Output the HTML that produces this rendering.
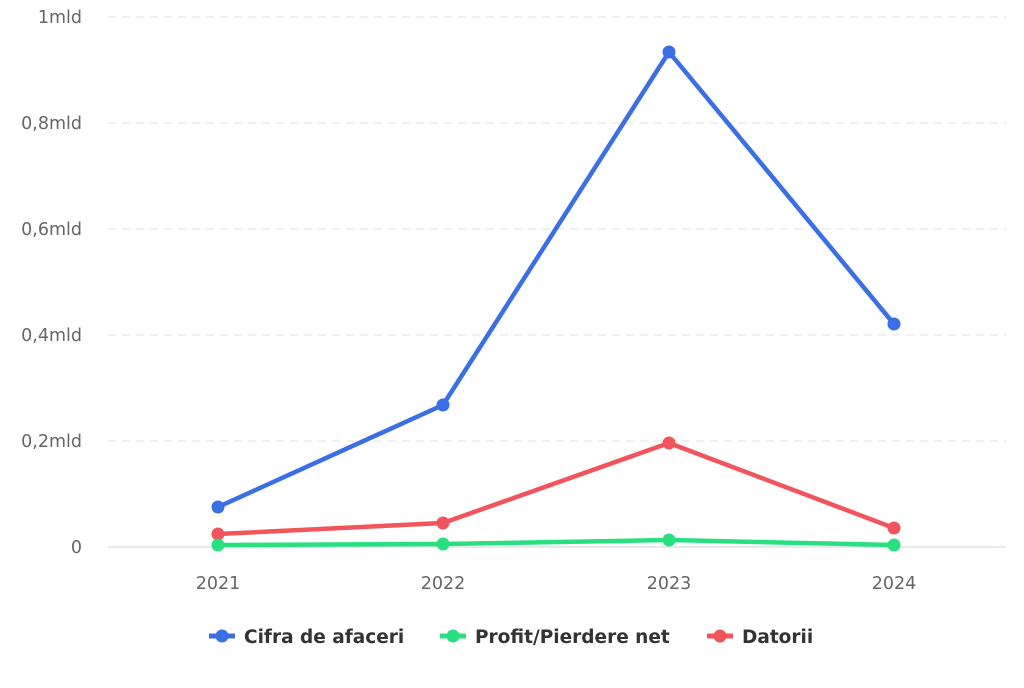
<!DOCTYPE html>
<html><head><meta charset="utf-8"><style>body{margin:0;background:#fff}</style></head><body>
<svg width="1024" height="683" xmlns="http://www.w3.org/2000/svg" font-family="DejaVu Sans, sans-serif">
<rect width="1024" height="683" fill="#fff"/>
<g stroke="#e0e0e0" stroke-width="1" stroke-dasharray="8,6">
<line x1="108" x2="1006" y1="17" y2="17"/>
<line x1="108" x2="1006" y1="123" y2="123"/>
<line x1="108" x2="1006" y1="229" y2="229"/>
<line x1="108" x2="1006" y1="335" y2="335"/>
<line x1="108" x2="1006" y1="441" y2="441"/>
</g>
<line x1="108" x2="1006" y1="547" y2="547" stroke="#ccd6e0" stroke-width="1"/>
<g fill="#666" font-size="17.5" text-anchor="end">
<text x="82" y="23">1mld</text>
<text x="82" y="129">0,8mld</text>
<text x="82" y="235">0,6mld</text>
<text x="82" y="341">0,4mld</text>
<text x="82" y="447">0,2mld</text>
<text x="82" y="553">0</text>
</g>
<g fill="#666" font-size="17.5" text-anchor="middle">
<text x="218" y="589">2021</text><text x="443" y="589">2022</text><text x="669" y="589">2023</text><text x="894" y="589">2024</text>
</g>
<g fill="none" stroke-width="4.5" stroke-linejoin="round">
<polyline stroke="#3b6fe6" points="218,507 443,405 669,52 894,324"/>
<polyline stroke="#f2545b" points="218,534 443,523 669,443 894,528"/>
<polyline stroke="#28e07f" points="218,545 443,544 669,540 894,545"/>
</g>
<g fill="#3b6fe6"><circle cx="218" cy="507" r="6.5"/><circle cx="443" cy="405" r="6.5"/><circle cx="669" cy="52" r="6.5"/><circle cx="894" cy="324" r="6.5"/></g>
<g fill="#f2545b"><circle cx="218" cy="534" r="6.5"/><circle cx="443" cy="523" r="6.5"/><circle cx="669" cy="443" r="6.5"/><circle cx="894" cy="528" r="6.5"/></g>
<g fill="#28e07f"><circle cx="218" cy="545" r="6.5"/><circle cx="443" cy="544" r="6.5"/><circle cx="669" cy="540" r="6.5"/><circle cx="894" cy="545" r="6.5"/></g>
<g font-size="18.5" font-weight="bold" fill="#333">
<line x1="209" x2="235" y1="636" y2="636" stroke="#3b6fe6" stroke-width="5"/><circle cx="222" cy="636" r="6.5" fill="#3b6fe6"/>
<text x="244" y="643">Cifra de afaceri</text>
<line x1="440" x2="466" y1="636" y2="636" stroke="#28e07f" stroke-width="5"/><circle cx="453" cy="636" r="6.5" fill="#28e07f"/>
<text x="475" y="643">Profit/Pierdere net</text>
<line x1="707" x2="733" y1="636" y2="636" stroke="#f2545b" stroke-width="5"/><circle cx="720" cy="636" r="6.5" fill="#f2545b"/>
<text x="742" y="643">Datorii</text>
</g>
</svg>
</body></html>
